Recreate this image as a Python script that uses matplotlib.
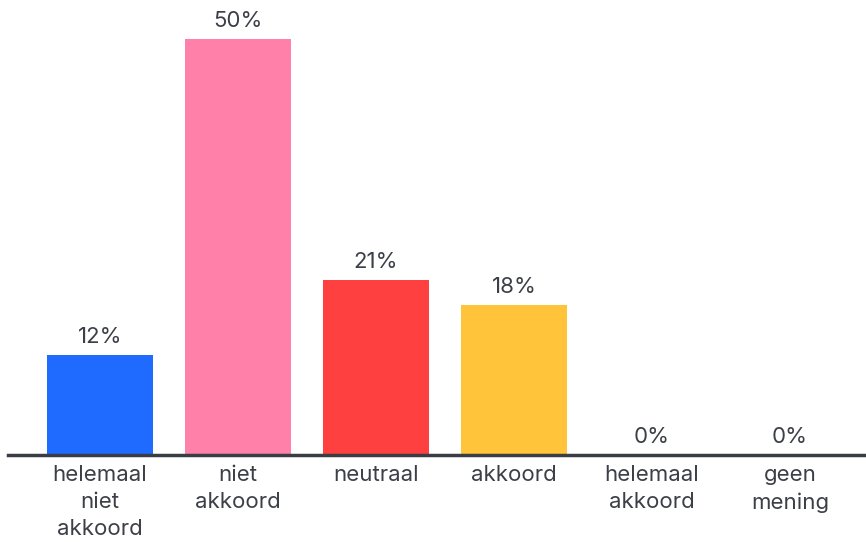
import numpy as np
import matplotlib.pyplot as plt

plt.rcParams['font.family'] = ['Inter', 'DejaVu Sans']

# Gegevens
categorieen = ['helemaal\nniet\nakkoord', 'niet\nakkoord', 'neutraal', 'akkoord',
               'helemaal\nakkoord', 'geen\nmening']
waarden = [12, 50, 21, 18, 0, 0]
kleuren = ['#1f6bff', '#ff80a8', '#ff4040', '#ffc43a', '#cccccc', '#cccccc']

fig = plt.figure(figsize=(8.66, 5.42), dpi=100)
ax = fig.add_axes([8 / 866, 87 / 542, 858 / 866, 416 / 542])

x = np.arange(len(categorieen))
ax.bar(x, waarden, width=0.77, color=kleuren)

for xi, v in zip(x, waarden):
    ax.text(xi, v + 1.0, f'{v}%', ha='center', va='bottom', fontsize=16,
            color='#3c3f47', clip_on=False)

ax.set_xlim(-0.667, 5.55)
ax.set_ylim(0, 50)
ax.set_xticks(x)
ax.set_xticklabels(categorieen, fontsize=16, color='#3c3f47', linespacing=1.45)
ax.tick_params(axis='x', length=0, pad=7)
ax.set_yticks([])

for s in ['top', 'right', 'left']:
    ax.spines[s].set_visible(False)
ax.spines['bottom'].set_linewidth(2.5)
ax.spines['bottom'].set_color('#3a3d44')

fig.savefig('out.png', dpi=100)
